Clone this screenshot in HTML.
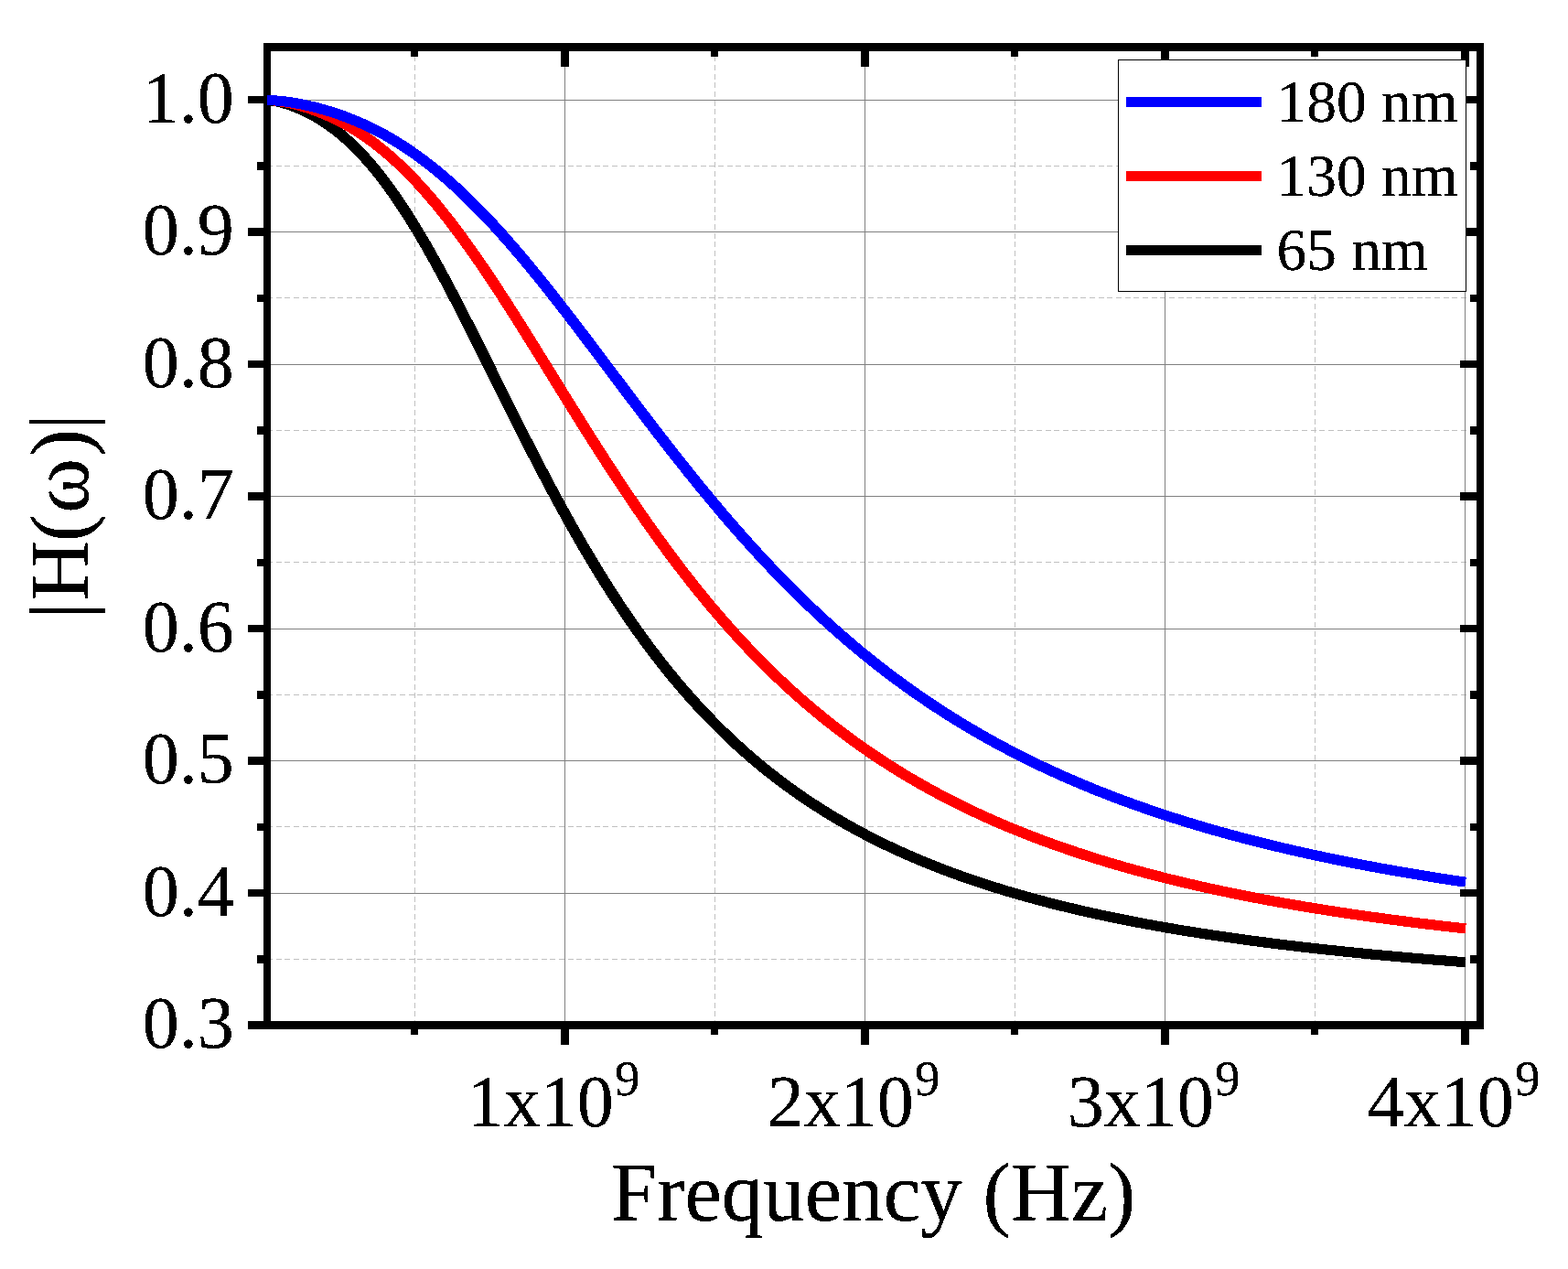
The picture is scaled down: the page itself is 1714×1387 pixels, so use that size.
<!DOCTYPE html>
<html lang="en"><head><meta charset="utf-8"><title>|H(ω)| vs Frequency</title>
<style>html,body{margin:0;padding:0;background:#fff;width:1714px;height:1387px}svg{display:block}text{font-family:"Liberation Serif",serif;fill:#000}.t{font-size:80px}.s{font-size:55px}.a{font-size:90.9px}.l{font-size:65.45px}</style></head><body>
<svg width="1714" height="1387" viewBox="0 0 1714 1387">
<defs><filter id="bw" filterUnits="userSpaceOnUse" x="0" y="0" width="1714" height="1387" color-interpolation-filters="sRGB"><feComponentTransfer><feFuncA type="discrete" tableValues="0 1 1"/></feComponentTransfer></filter></defs>
<rect width="1714" height="1387" fill="#fff"/>
<g shape-rendering="crispEdges" fill="none">
<path d="M292 181.5H1618M292 325.5H1618M292 470.5H1618M292 614.5H1618M292 759.5H1618M292 903.5H1618M292 1048.5H1618M453.5 51.6V1120M781.5 51.6V1120M1109.5 51.6V1120M1437.5 51.6V1120" stroke="#c0c0c0" stroke-width="1" stroke-dasharray="6 3.667"/>
<path d="M292 109.5H1618M292 253.5H1618M292 398.5H1618M292 542.5H1618M292 687.5H1618M292 831.5H1618M292 976.5H1618M617.5 51.6V1120M945.5 51.6V1120M1273.5 51.6V1120M1601.5 51.6V1120" stroke="#808080" stroke-width="1"/>
</g>
<g shape-rendering="crispEdges" fill="#000">
<rect x="288" y="47" width="1334" height="9"/>
<rect x="288" y="1116" width="1334" height="9"/>
<rect x="288" y="47" width="8" height="1078"/>
<rect x="1614" y="47" width="8" height="1078"/>
<rect x="271" y="105" width="18" height="8"/>
<rect x="1596" y="105" width="19" height="8"/>
<rect x="281" y="177" width="8" height="9"/>
<rect x="1607" y="177" width="8" height="9"/>
<rect x="271" y="249" width="18" height="9"/>
<rect x="1596" y="249" width="19" height="9"/>
<rect x="281" y="322" width="8" height="8"/>
<rect x="1607" y="322" width="8" height="8"/>
<rect x="271" y="394" width="18" height="8"/>
<rect x="1596" y="394" width="19" height="8"/>
<rect x="281" y="466" width="8" height="9"/>
<rect x="1607" y="466" width="8" height="9"/>
<rect x="271" y="538" width="18" height="9"/>
<rect x="1596" y="538" width="19" height="9"/>
<rect x="281" y="611" width="8" height="8"/>
<rect x="1607" y="611" width="8" height="8"/>
<rect x="271" y="683" width="18" height="8"/>
<rect x="1596" y="683" width="19" height="8"/>
<rect x="281" y="755" width="8" height="9"/>
<rect x="1607" y="755" width="8" height="9"/>
<rect x="271" y="827" width="18" height="9"/>
<rect x="1596" y="827" width="19" height="9"/>
<rect x="281" y="900" width="8" height="8"/>
<rect x="1607" y="900" width="8" height="8"/>
<rect x="271" y="972" width="18" height="8"/>
<rect x="1596" y="972" width="19" height="8"/>
<rect x="281" y="1044" width="8" height="9"/>
<rect x="1607" y="1044" width="8" height="9"/>
<rect x="271" y="1116" width="18" height="9"/>
<rect x="1596" y="1116" width="19" height="9"/>
<rect x="449" y="55" width="8" height="7"/>
<rect x="449" y="1124" width="8" height="7"/>
<rect x="613" y="55" width="9" height="18"/>
<rect x="613" y="1124" width="9" height="18"/>
<rect x="777" y="55" width="8" height="7"/>
<rect x="777" y="1124" width="8" height="7"/>
<rect x="941" y="55" width="9" height="18"/>
<rect x="941" y="1124" width="9" height="18"/>
<rect x="1105" y="55" width="8" height="7"/>
<rect x="1105" y="1124" width="8" height="7"/>
<rect x="1269" y="55" width="9" height="18"/>
<rect x="1269" y="1124" width="9" height="18"/>
<rect x="1433" y="55" width="8" height="7"/>
<rect x="1433" y="1124" width="8" height="7"/>
<rect x="1597" y="55" width="9" height="18"/>
<rect x="1597" y="1124" width="9" height="18"/>
</g>
<defs><clipPath id="cc"><rect x="292" y="56" width="1312" height="1060"/></clipPath>
<path id="c-black" d="M292.00 109.56 L295.98 109.87 L299.96 110.42 L303.94 111.19 L307.92 112.15 L311.90 113.28 L315.88 114.55 L319.86 115.96 L323.84 117.50 L327.82 119.16 L331.80 120.94 L335.78 122.85 L339.76 124.88 L343.74 127.04 L347.72 129.33 L351.70 131.76 L355.68 134.34 L359.66 137.06 L363.64 139.93 L367.62 142.95 L371.60 146.13 L375.58 149.47 L379.56 152.97 L383.54 156.63 L387.52 160.46 L391.50 164.45 L395.48 168.61 L399.46 172.93 L403.44 177.42 L407.42 182.08 L411.40 186.91 L415.38 191.90 L419.36 197.05 L423.34 202.37 L427.32 207.85 L431.30 213.49 L435.28 219.28 L439.26 225.22 L443.24 231.32 L447.22 237.55 L451.20 243.93 L455.18 250.45 L459.16 257.09 L463.14 263.87 L467.12 270.76 L471.10 277.77 L475.08 284.89 L479.06 292.12 L483.04 299.44 L487.02 306.86 L491.00 314.36 L494.98 321.94 L498.96 329.59 L502.94 337.31 L506.92 345.09 L510.90 352.92 L514.88 360.79 L518.86 368.71 L522.84 376.66 L526.82 384.64 L530.80 392.63 L534.78 400.65 L538.76 408.67 L542.74 416.69 L546.72 424.71 L550.70 432.73 L554.68 440.72 L558.66 448.71 L562.64 456.66 L566.62 464.59 L570.60 472.49 L574.58 480.34 L578.56 488.16 L582.54 495.93 L586.52 503.66 L590.50 511.33 L594.48 518.94 L598.46 526.50 L602.44 533.99 L606.42 541.42 L610.40 548.79 L614.38 556.08 L618.36 563.31 L622.33 570.46 L626.31 577.53 L630.29 584.53 L634.27 591.46 L638.25 598.30 L642.23 605.07 L646.21 611.75 L650.19 618.36 L654.17 624.88 L658.15 631.32 L662.13 637.68 L666.11 643.95 L670.09 650.14 L674.07 656.24 L678.05 662.27 L682.03 668.21 L686.01 674.06 L689.99 679.84 L693.97 685.53 L697.95 691.13 L701.93 696.66 L705.91 702.11 L709.89 707.47 L713.87 712.75 L717.85 717.96 L721.83 723.08 L725.81 728.13 L729.79 733.10 L733.77 738.00 L737.75 742.81 L741.73 747.56 L745.71 752.23 L749.69 756.82 L753.67 761.35 L757.65 765.80 L761.63 770.18 L765.61 774.49 L769.59 778.74 L773.57 782.91 L777.55 787.02 L781.53 791.07 L785.51 795.05 L789.49 798.97 L793.47 802.82 L797.45 806.61 L801.43 810.34 L805.41 814.01 L809.39 817.62 L813.37 821.18 L817.35 824.68 L821.33 828.12 L825.31 831.50 L829.29 834.83 L833.27 838.11 L837.25 841.34 L841.23 844.51 L845.21 847.64 L849.19 850.71 L853.17 853.73 L857.15 856.71 L861.13 859.64 L865.11 862.52 L869.09 865.36 L873.07 868.15 L877.05 870.90 L881.03 873.61 L885.01 876.27 L888.99 878.89 L892.97 881.47 L896.95 884.01 L900.93 886.51 L904.91 888.97 L908.89 891.39 L912.87 893.78 L916.85 896.12 L920.83 898.44 L924.81 900.71 L928.79 902.95 L932.77 905.16 L936.75 907.33 L940.73 909.47 L944.71 911.58 L948.69 913.66 L952.67 915.70 L956.65 917.72 L960.63 919.70 L964.61 921.66 L968.59 923.58 L972.57 925.48 L976.55 927.35 L980.53 929.19 L984.51 931.00 L988.49 932.79 L992.47 934.55 L996.45 936.28 L1000.43 937.99 L1004.41 939.68 L1008.39 941.34 L1012.37 942.98 L1016.35 944.59 L1020.33 946.18 L1024.31 947.75 L1028.29 949.29 L1032.27 950.81 L1036.25 952.32 L1040.23 953.80 L1044.21 955.26 L1048.19 956.70 L1052.17 958.12 L1056.15 959.52 L1060.13 960.90 L1064.11 962.26 L1068.09 963.60 L1072.07 964.92 L1076.05 966.23 L1080.03 967.52 L1084.01 968.79 L1087.99 970.04 L1091.97 971.28 L1095.95 972.50 L1099.93 973.70 L1103.91 974.89 L1107.89 976.06 L1111.87 977.22 L1115.85 978.36 L1119.83 979.48 L1123.81 980.59 L1127.79 981.69 L1131.77 982.77 L1135.75 983.84 L1139.73 984.89 L1143.71 985.94 L1147.69 986.96 L1151.67 987.98 L1155.65 988.98 L1159.63 989.97 L1163.61 990.94 L1167.59 991.91 L1171.57 992.86 L1175.55 993.80 L1179.53 994.73 L1183.51 995.64 L1187.49 996.55 L1191.47 997.44 L1195.45 998.32 L1199.43 999.20 L1203.41 1000.06 L1207.39 1000.91 L1211.37 1001.75 L1215.35 1002.58 L1219.33 1003.40 L1223.31 1004.21 L1227.29 1005.01 L1231.27 1005.80 L1235.25 1006.58 L1239.23 1007.36 L1243.21 1008.12 L1247.19 1008.87 L1251.17 1009.62 L1255.15 1010.35 L1259.13 1011.08 L1263.11 1011.80 L1267.09 1012.51 L1271.07 1013.22 L1275.04 1013.91 L1279.02 1014.60 L1283.00 1015.28 L1286.98 1015.95 L1290.96 1016.61 L1294.94 1017.27 L1298.92 1017.92 L1302.90 1018.56 L1306.88 1019.19 L1310.86 1019.82 L1314.84 1020.44 L1318.82 1021.05 L1322.80 1021.66 L1326.78 1022.26 L1330.76 1022.85 L1334.74 1023.44 L1338.72 1024.02 L1342.70 1024.59 L1346.68 1025.16 L1350.66 1025.72 L1354.64 1026.28 L1358.62 1026.83 L1362.60 1027.37 L1366.58 1027.91 L1370.56 1028.44 L1374.54 1028.97 L1378.52 1029.49 L1382.50 1030.01 L1386.48 1030.52 L1390.46 1031.02 L1394.44 1031.52 L1398.42 1032.01 L1402.40 1032.50 L1406.38 1032.99 L1410.36 1033.47 L1414.34 1033.94 L1418.32 1034.41 L1422.30 1034.87 L1426.28 1035.33 L1430.26 1035.79 L1434.24 1036.24 L1438.22 1036.69 L1442.20 1037.13 L1446.18 1037.56 L1450.16 1038.00 L1454.14 1038.42 L1458.12 1038.85 L1462.10 1039.27 L1466.08 1039.68 L1470.06 1040.10 L1474.04 1040.50 L1478.02 1040.91 L1482.00 1041.31 L1485.98 1041.70 L1489.96 1042.09 L1493.94 1042.48 L1497.92 1042.87 L1501.90 1043.25 L1505.88 1043.63 L1509.86 1044.00 L1513.84 1044.37 L1517.82 1044.74 L1521.80 1045.10 L1525.78 1045.46 L1529.76 1045.81 L1533.74 1046.17 L1537.72 1046.52 L1541.70 1046.86 L1545.68 1047.21 L1549.66 1047.55 L1553.64 1047.88 L1557.62 1048.22 L1561.60 1048.55 L1565.58 1048.87 L1569.56 1049.20 L1573.54 1049.52 L1577.52 1049.84 L1581.50 1050.15 L1585.48 1050.47 L1589.46 1050.78 L1593.44 1051.09 L1597.42 1051.39 L1601.40 1051.69"/>
<path id="c-red" d="M292.00 109.54 L295.98 109.71 L299.96 110.03 L303.94 110.48 L307.92 111.06 L311.90 111.75 L315.88 112.55 L319.86 113.44 L323.84 114.43 L327.82 115.50 L331.80 116.65 L335.78 117.88 L339.76 119.20 L343.74 120.60 L347.72 122.07 L351.70 123.64 L355.68 125.28 L359.66 127.02 L363.64 128.84 L367.62 130.76 L371.60 132.76 L375.58 134.87 L379.56 137.07 L383.54 139.36 L387.52 141.76 L391.50 144.26 L395.48 146.86 L399.46 149.56 L403.44 152.37 L407.42 155.28 L411.40 158.30 L415.38 161.42 L419.36 164.66 L423.34 168.00 L427.32 171.45 L431.30 175.00 L435.28 178.67 L439.26 182.44 L443.24 186.32 L447.22 190.31 L451.20 194.40 L455.18 198.60 L459.16 202.91 L463.14 207.31 L467.12 211.82 L471.10 216.43 L475.08 221.14 L479.06 225.95 L483.04 230.85 L487.02 235.85 L491.00 240.94 L494.98 246.11 L498.96 251.38 L502.94 256.73 L506.92 262.16 L510.90 267.67 L514.88 273.25 L518.86 278.91 L522.84 284.64 L526.82 290.43 L530.80 296.29 L534.78 302.21 L538.76 308.19 L542.74 314.22 L546.72 320.30 L550.70 326.43 L554.68 332.60 L558.66 338.82 L562.64 345.07 L566.62 351.35 L570.60 357.66 L574.58 364.00 L578.56 370.37 L582.54 376.75 L586.52 383.15 L590.50 389.57 L594.48 395.99 L598.46 402.42 L602.44 408.86 L606.42 415.29 L610.40 421.73 L614.38 428.16 L618.36 434.58 L622.33 440.99 L626.31 447.39 L630.29 453.77 L634.27 460.13 L638.25 466.48 L642.23 472.80 L646.21 479.09 L650.19 485.36 L654.17 491.60 L658.15 497.80 L662.13 503.98 L666.11 510.12 L670.09 516.22 L674.07 522.29 L678.05 528.31 L682.03 534.29 L686.01 540.24 L689.99 546.13 L693.97 551.99 L697.95 557.79 L701.93 563.55 L705.91 569.26 L709.89 574.93 L713.87 580.54 L717.85 586.10 L721.83 591.62 L725.81 597.08 L729.79 602.49 L733.77 607.84 L737.75 613.15 L741.73 618.40 L745.71 623.59 L749.69 628.73 L753.67 633.82 L757.65 638.86 L761.63 643.84 L765.61 648.76 L769.59 653.63 L773.57 658.45 L777.55 663.21 L781.53 667.92 L785.51 672.57 L789.49 677.17 L793.47 681.71 L797.45 686.21 L801.43 690.64 L805.41 695.03 L809.39 699.36 L813.37 703.64 L817.35 707.87 L821.33 712.04 L825.31 716.17 L829.29 720.24 L833.27 724.26 L837.25 728.23 L841.23 732.15 L845.21 736.03 L849.19 739.85 L853.17 743.62 L857.15 747.35 L861.13 751.03 L865.11 754.66 L869.09 758.24 L873.07 761.78 L877.05 765.27 L881.03 768.72 L885.01 772.12 L888.99 775.48 L892.97 778.80 L896.95 782.07 L900.93 785.30 L904.91 788.48 L908.89 791.63 L912.87 794.73 L916.85 797.79 L920.83 800.81 L924.81 803.80 L928.79 806.74 L932.77 809.65 L936.75 812.51 L940.73 815.34 L944.71 818.13 L948.69 820.89 L952.67 823.61 L956.65 826.29 L960.63 828.94 L964.61 831.55 L968.59 834.13 L972.57 836.68 L976.55 839.19 L980.53 841.67 L984.51 844.11 L988.49 846.53 L992.47 848.91 L996.45 851.26 L1000.43 853.59 L1004.41 855.88 L1008.39 858.14 L1012.37 860.37 L1016.35 862.57 L1020.33 864.75 L1024.31 866.90 L1028.29 869.02 L1032.27 871.11 L1036.25 873.17 L1040.23 875.21 L1044.21 877.22 L1048.19 879.21 L1052.17 881.17 L1056.15 883.11 L1060.13 885.02 L1064.11 886.91 L1068.09 888.77 L1072.07 890.61 L1076.05 892.43 L1080.03 894.22 L1084.01 895.99 L1087.99 897.74 L1091.97 899.47 L1095.95 901.18 L1099.93 902.86 L1103.91 904.52 L1107.89 906.17 L1111.87 907.79 L1115.85 909.39 L1119.83 910.98 L1123.81 912.54 L1127.79 914.08 L1131.77 915.61 L1135.75 917.12 L1139.73 918.60 L1143.71 920.07 L1147.69 921.53 L1151.67 922.96 L1155.65 924.38 L1159.63 925.78 L1163.61 927.17 L1167.59 928.53 L1171.57 929.88 L1175.55 931.22 L1179.53 932.54 L1183.51 933.84 L1187.49 935.13 L1191.47 936.40 L1195.45 937.66 L1199.43 938.90 L1203.41 940.13 L1207.39 941.35 L1211.37 942.55 L1215.35 943.73 L1219.33 944.91 L1223.31 946.07 L1227.29 947.21 L1231.27 948.35 L1235.25 949.47 L1239.23 950.57 L1243.21 951.67 L1247.19 952.75 L1251.17 953.82 L1255.15 954.88 L1259.13 955.92 L1263.11 956.96 L1267.09 957.98 L1271.07 958.99 L1275.04 959.99 L1279.02 960.98 L1283.00 961.96 L1286.98 962.92 L1290.96 963.88 L1294.94 964.83 L1298.92 965.76 L1302.90 966.69 L1306.88 967.60 L1310.86 968.51 L1314.84 969.40 L1318.82 970.29 L1322.80 971.17 L1326.78 972.03 L1330.76 972.89 L1334.74 973.74 L1338.72 974.58 L1342.70 975.41 L1346.68 976.23 L1350.66 977.05 L1354.64 977.85 L1358.62 978.65 L1362.60 979.44 L1366.58 980.22 L1370.56 980.99 L1374.54 981.75 L1378.52 982.51 L1382.50 983.25 L1386.48 983.99 L1390.46 984.73 L1394.44 985.45 L1398.42 986.17 L1402.40 986.88 L1406.38 987.58 L1410.36 988.28 L1414.34 988.97 L1418.32 989.65 L1422.30 990.33 L1426.28 991.00 L1430.26 991.66 L1434.24 992.31 L1438.22 992.96 L1442.20 993.60 L1446.18 994.24 L1450.16 994.87 L1454.14 995.49 L1458.12 996.11 L1462.10 996.72 L1466.08 997.33 L1470.06 997.93 L1474.04 998.52 L1478.02 999.11 L1482.00 999.69 L1485.98 1000.27 L1489.96 1000.84 L1493.94 1001.41 L1497.92 1001.97 L1501.90 1002.52 L1505.88 1003.07 L1509.86 1003.62 L1513.84 1004.16 L1517.82 1004.69 L1521.80 1005.22 L1525.78 1005.75 L1529.76 1006.27 L1533.74 1006.78 L1537.72 1007.29 L1541.70 1007.80 L1545.68 1008.30 L1549.66 1008.80 L1553.64 1009.29 L1557.62 1009.78 L1561.60 1010.26 L1565.58 1010.74 L1569.56 1011.21 L1573.54 1011.68 L1577.52 1012.15 L1581.50 1012.61 L1585.48 1013.07 L1589.46 1013.52 L1593.44 1013.97 L1597.42 1014.41 L1601.40 1014.85"/>
<path id="c-blue" d="M292.00 109.52 L295.98 109.64 L299.96 109.85 L303.94 110.15 L307.92 110.54 L311.90 111.01 L315.88 111.56 L319.86 112.17 L323.84 112.85 L327.82 113.59 L331.80 114.39 L335.78 115.25 L339.76 116.16 L343.74 117.13 L347.72 118.15 L351.70 119.23 L355.68 120.36 L359.66 121.55 L363.64 122.80 L367.62 124.10 L371.60 125.47 L375.58 126.89 L379.56 128.38 L383.54 129.93 L387.52 131.54 L391.50 133.22 L395.48 134.97 L399.46 136.78 L403.44 138.65 L407.42 140.60 L411.40 142.61 L415.38 144.70 L419.36 146.85 L423.34 149.08 L427.32 151.38 L431.30 153.75 L435.28 156.19 L439.26 158.71 L443.24 161.30 L447.22 163.96 L451.20 166.70 L455.18 169.51 L459.16 172.40 L463.14 175.36 L467.12 178.39 L471.10 181.50 L475.08 184.68 L479.06 187.94 L483.04 191.26 L487.02 194.66 L491.00 198.14 L494.98 201.68 L498.96 205.30 L502.94 208.98 L506.92 212.74 L510.90 216.56 L514.88 220.45 L518.86 224.41 L522.84 228.43 L526.82 232.52 L530.80 236.67 L534.78 240.88 L538.76 245.15 L542.74 249.49 L546.72 253.88 L550.70 258.32 L554.68 262.83 L558.66 267.38 L562.64 271.99 L566.62 276.64 L570.60 281.35 L574.58 286.10 L578.56 290.89 L582.54 295.73 L586.52 300.61 L590.50 305.52 L594.48 310.48 L598.46 315.47 L602.44 320.49 L606.42 325.54 L610.40 330.63 L614.38 335.74 L618.36 340.87 L622.33 346.03 L626.31 351.21 L630.29 356.41 L634.27 361.62 L638.25 366.86 L642.23 372.10 L646.21 377.36 L650.19 382.62 L654.17 387.90 L658.15 393.18 L662.13 398.46 L666.11 403.75 L670.09 409.04 L674.07 414.33 L678.05 419.61 L682.03 424.89 L686.01 430.16 L689.99 435.43 L693.97 440.69 L697.95 445.94 L701.93 451.17 L705.91 456.39 L709.89 461.60 L713.87 466.79 L717.85 471.96 L721.83 477.12 L725.81 482.25 L729.79 487.37 L733.77 492.46 L737.75 497.53 L741.73 502.57 L745.71 507.59 L749.69 512.59 L753.67 517.55 L757.65 522.49 L761.63 527.40 L765.61 532.28 L769.59 537.13 L773.57 541.95 L777.55 546.74 L781.53 551.49 L785.51 556.22 L789.49 560.91 L793.47 565.56 L797.45 570.19 L801.43 574.77 L805.41 579.33 L809.39 583.84 L813.37 588.32 L817.35 592.77 L821.33 597.18 L825.31 601.55 L829.29 605.88 L833.27 610.18 L837.25 614.44 L841.23 618.67 L845.21 622.85 L849.19 627.00 L853.17 631.11 L857.15 635.18 L861.13 639.22 L865.11 643.22 L869.09 647.18 L873.07 651.10 L877.05 654.98 L881.03 658.83 L885.01 662.64 L888.99 666.41 L892.97 670.14 L896.95 673.84 L900.93 677.50 L904.91 681.12 L908.89 684.71 L912.87 688.25 L916.85 691.77 L920.83 695.24 L924.81 698.68 L928.79 702.09 L932.77 705.45 L936.75 708.79 L940.73 712.08 L944.71 715.35 L948.69 718.57 L952.67 721.77 L956.65 724.93 L960.63 728.05 L964.61 731.14 L968.59 734.20 L972.57 737.22 L976.55 740.22 L980.53 743.17 L984.51 746.10 L988.49 748.99 L992.47 751.86 L996.45 754.69 L1000.43 757.49 L1004.41 760.26 L1008.39 762.99 L1012.37 765.70 L1016.35 768.38 L1020.33 771.03 L1024.31 773.65 L1028.29 776.24 L1032.27 778.80 L1036.25 781.33 L1040.23 783.83 L1044.21 786.31 L1048.19 788.76 L1052.17 791.18 L1056.15 793.57 L1060.13 795.94 L1064.11 798.28 L1068.09 800.59 L1072.07 802.88 L1076.05 805.14 L1080.03 807.38 L1084.01 809.59 L1087.99 811.78 L1091.97 813.94 L1095.95 816.08 L1099.93 818.20 L1103.91 820.29 L1107.89 822.36 L1111.87 824.40 L1115.85 826.43 L1119.83 828.43 L1123.81 830.40 L1127.79 832.36 L1131.77 834.29 L1135.75 836.21 L1139.73 838.10 L1143.71 839.97 L1147.69 841.82 L1151.67 843.65 L1155.65 845.46 L1159.63 847.24 L1163.61 849.01 L1167.59 850.76 L1171.57 852.49 L1175.55 854.21 L1179.53 855.90 L1183.51 857.57 L1187.49 859.23 L1191.47 860.87 L1195.45 862.49 L1199.43 864.09 L1203.41 865.67 L1207.39 867.24 L1211.37 868.79 L1215.35 870.33 L1219.33 871.84 L1223.31 873.35 L1227.29 874.83 L1231.27 876.30 L1235.25 877.75 L1239.23 879.19 L1243.21 880.61 L1247.19 882.02 L1251.17 883.41 L1255.15 884.79 L1259.13 886.15 L1263.11 887.50 L1267.09 888.83 L1271.07 890.15 L1275.04 891.46 L1279.02 892.75 L1283.00 894.03 L1286.98 895.30 L1290.96 896.55 L1294.94 897.79 L1298.92 899.01 L1302.90 900.23 L1306.88 901.43 L1310.86 902.62 L1314.84 903.79 L1318.82 904.96 L1322.80 906.11 L1326.78 907.25 L1330.76 908.38 L1334.74 909.49 L1338.72 910.60 L1342.70 911.69 L1346.68 912.78 L1350.66 913.85 L1354.64 914.91 L1358.62 915.96 L1362.60 917.00 L1366.58 918.03 L1370.56 919.05 L1374.54 920.06 L1378.52 921.06 L1382.50 922.05 L1386.48 923.03 L1390.46 924.00 L1394.44 924.96 L1398.42 925.91 L1402.40 926.85 L1406.38 927.78 L1410.36 928.70 L1414.34 929.62 L1418.32 930.52 L1422.30 931.42 L1426.28 932.31 L1430.26 933.18 L1434.24 934.05 L1438.22 934.92 L1442.20 935.77 L1446.18 936.62 L1450.16 937.45 L1454.14 938.28 L1458.12 939.10 L1462.10 939.92 L1466.08 940.72 L1470.06 941.52 L1474.04 942.31 L1478.02 943.10 L1482.00 943.87 L1485.98 944.64 L1489.96 945.40 L1493.94 946.16 L1497.92 946.90 L1501.90 947.64 L1505.88 948.38 L1509.86 949.10 L1513.84 949.82 L1517.82 950.54 L1521.80 951.24 L1525.78 951.94 L1529.76 952.64 L1533.74 953.33 L1537.72 954.01 L1541.70 954.68 L1545.68 955.35 L1549.66 956.01 L1553.64 956.67 L1557.62 957.32 L1561.60 957.97 L1565.58 958.61 L1569.56 959.24 L1573.54 959.87 L1577.52 960.49 L1581.50 961.11 L1585.48 961.72 L1589.46 962.33 L1593.44 962.93 L1597.42 963.52 L1601.40 964.11"/>
</defs>
<g fill="none" stroke-width="11" stroke-linejoin="round" shape-rendering="crispEdges" clip-path="url(#cc)">
<g stroke="#000"><use href="#c-black" x="-0.68"/><use href="#c-black" x="0.68"/></g>
<g stroke="#f00"><use href="#c-red" x="-0.68"/><use href="#c-red" x="0.68"/></g>
<g stroke="#00f"><use href="#c-blue" x="-0.68"/><use href="#c-blue" x="0.68"/></g>
</g>
<g shape-rendering="crispEdges">
<rect x="1222.5" y="65.5" width="380" height="253" fill="#fff" stroke="#000" stroke-width="1"/>
<rect x="1231" y="106" width="148" height="11" fill="#00f"/>
<rect x="1231" y="187" width="148" height="11" fill="#f00"/>
<rect x="1231" y="268" width="148" height="11" fill="#000"/>
</g>
<g filter="url(#bw)">
<text class="l" transform="translate(1395.5 133.0) scale(1 1.012)">180 nm</text>
<text class="l" transform="translate(1395.5 214.0) scale(1 1.012)">130 nm</text>
<text class="l" transform="translate(1395.5 295.0) scale(1 1.012)">65 nm</text>
<text class="t" transform="translate(155.7 133.7) scale(1 1.012)">1.0</text>
<text class="t" transform="translate(155.7 278.2) scale(1 1.012)">0.9</text>
<text class="t" transform="translate(155.7 422.7) scale(1 1.012)">0.8</text>
<text class="t" transform="translate(155.7 567.2) scale(1 1.012)">0.7</text>
<text class="t" transform="translate(155.7 711.7) scale(1 1.012)">0.6</text>
<text class="t" transform="translate(155.7 856.2) scale(1 1.012)">0.5</text>
<text class="t" transform="translate(155.7 1000.7) scale(1 1.012)">0.4</text>
<text class="t" transform="translate(155.7 1145.2) scale(1 1.012)">0.3</text>
<text class="t" transform="translate(510.8 1230.8) scale(1 1.012)">1x10<tspan class="s" dx="1.2" dy="-33">9</tspan></text>
<text class="t" transform="translate(838.8 1230.8) scale(1 1.012)">2x10<tspan class="s" dx="1.2" dy="-33">9</tspan></text>
<text class="t" transform="translate(1166.8 1230.8) scale(1 1.012)">3x10<tspan class="s" dx="1.2" dy="-33">9</tspan></text>
<text class="t" transform="translate(1494.8 1230.8) scale(1 1.012)">4x10<tspan class="s" dx="1.2" dy="-33">9</tspan></text>
<text class="a" transform="translate(667.4 1334) scale(1.002 1.008)">Frequency (Hz)</text>
<text class="a" transform="translate(96 676.8) rotate(-90)" x="0 20.3 84.7 115.9 177.7 206.75">|H(ω)|</text>
</g>
</svg></body></html>
